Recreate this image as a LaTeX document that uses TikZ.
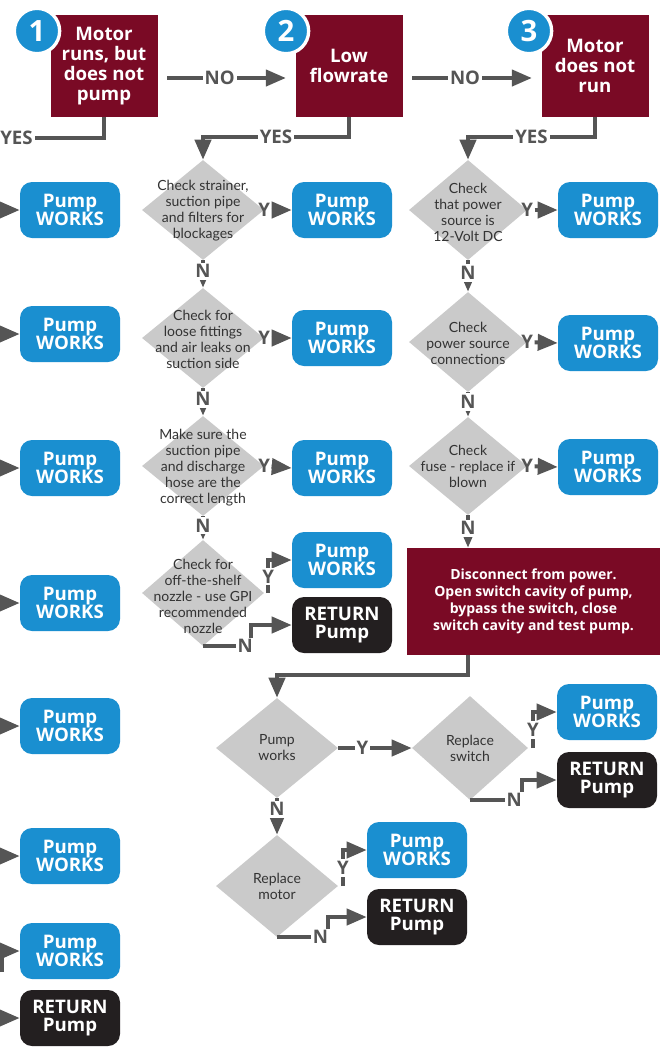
\documentclass[tikz,border=0pt]{standalone}
\usepackage{fontspec}
\setmainfont{Lato}
\newfontfamily\boldfam{Open Sans}
\usetikzlibrary{arrows.meta,shapes.geometric}
\definecolor{maroon}{HTML}{7A0A25}
\definecolor{pblue}{HTML}{1A8FD0}
\definecolor{dgray}{HTML}{CACACA}
\definecolor{agray}{HTML}{555555}
\definecolor{tgray}{HTML}{333333}
\definecolor{rblack}{HTML}{231F20}
\begin{document}
\begin{tikzpicture}[x=0.75pt,y=-0.75pt,
 works/.style={rectangle, rounded corners=9pt, fill=pblue, text=white, font=\boldfam\bfseries\fontsize{14}{14}\selectfont, align=center, minimum width=75pt, minimum height=42pt, inner sep=0pt},
 ret/.style={works, fill=rblack},
 hdr/.style={rectangle, fill=maroon, text=white, font=\boldfam\bfseries\fontsize{14}{14.8}\selectfont, align=center, minimum width=80.25pt, minimum height=76.5pt, inner sep=0pt},
 dia/.style={diamond, fill=dgray, inner sep=0pt, minimum width=91.5pt, minimum height=75pt},
 dtxt/.style={text=tgray, font=\fontsize{10.5}{12}\selectfont, align=center, inner sep=0pt},
 arr/.style={draw=agray, line width=3pt, -{Triangle[length=15pt,width=12pt]}},
 ln/.style={draw=agray, line width=3pt},
 lab/.style={text=agray, font=\boldfam\bfseries\fontsize{14}{14}\selectfont, fill=white, inner sep=1.5pt},
 ylab/.style={lab, fill=none},
 num/.style={circle, fill=pblue, draw=white, line width=2.5pt, minimum size=34pt, inner sep=0pt, text=white, font=\boldfam\bfseries\fontsize{22}{22}\selectfont},
]
\fill[white] (0,0) rectangle (667,1054);
\useasboundingbox (0,0) rectangle (667,1054);

% headers
\node[hdr] (h1) at (104,66) {Motor\\runs, but\\does not\\pump};
\node[hdr] (h2) at (349,66) {Low\\flowrate};
\node[hdr] (h3) at (595,66) {Motor\\does not\\run};
\node[num] (c1) at (37,31) {1};
\node[num] (c2) at (286,31) {2};
\node[num] (c3) at (529,31) {3};

\draw[arr, shorten <=7pt, shorten >=7pt] ([yshift=-9pt]h1.east) -- ([yshift=-9pt]h2.west) node[lab, pos=0.45] (no1) {NO};
\draw[arr, shorten <=7pt, shorten >=7pt] ([yshift=-9pt]h2.east) -- ([yshift=-9pt]h3.west) node[lab, pos=0.45] (no2) {NO};

% left column stubs
\coordinate (yl) at (0,138);
\draw[ln] (h1.south) |- (yl);
\node[lab, anchor=east] (yes1) at (35,138) {YES};

\node[works] (l1) at (70,210) {Pump\\WORKS};
\node[works] (l2) at (70,334) {Pump\\WORKS};
\node[works] (l3) at (70,468) {Pump\\WORKS};
\node[works] (l4) at (70,603) {Pump\\WORKS};
\node[works] (l5) at (70,726) {Pump\\WORKS};
\node[works] (l6) at (70,856) {Pump\\WORKS};
\node[works] (l7) at (70,951) {Pump\\WORKS};
\node[ret] (l8) at (70,1018) {RETURN\\Pump};
\coordinate (s1) at (0,210);
\coordinate (s2) at (0,334);
\coordinate (s3) at (0,468);
\coordinate (s4) at (0,603);
\coordinate (s5) at (0,726);
\coordinate (s6) at (0,856);
\coordinate (s7) at (2,972);
\coordinate (s8) at (0,1018);
\foreach \s/\t in {s1/l1,s2/l2,s3/l3,s4/l4,s5/l5,s6/l6,s8/l8}
  \draw[arr] (\s) -- (\t.west);
\draw[arr] (s7) |- (l7.west);

% column 2
\node[dia] (d1) at (203,210) {};
\node[dtxt] (t1) at (203,211) {Check strainer,\\suction pipe\\and filters for\\blockages};
\node[dia] (d2) at (203,338) {};
\node[dtxt] (t2) at (203,339) {Check for\\loose fittings\\and air leaks on\\suction side};
\node[dia] (d3) at (203,466) {};
\node[dtxt] (t3) at (203,468) {Make sure the\\suction pipe\\and discharge\\hose are the\\correct length};
\node[dia, minimum height=79.5pt] (d4) at (203,593) {};
\node[dtxt] (t4) at (203,596) {Check for\\off-the-shelf\\nozzle - use GPI\\recommended\\nozzle};

\draw[arr] (h2.south) -- ++(0,20) -| (d1.north) node[lab, pos=0.25] (yes2) {YES};
\draw[arr] (d1.south) -- (d2.north) node[lab, pos=0.4] (n1) {N};
\draw[arr] (d2.south) -- (d3.north) node[lab, pos=0.4] (n2) {N};
\draw[arr] (d3.south) -- (d4.north) node[lab, pos=0.4] (n3) {N};

\node[works] (w1) at (342,210) {Pump\\WORKS};
\node[works] (w2) at (342,338) {Pump\\WORKS};
\node[works] (w3) at (342,468) {Pump\\WORKS};
\node[works] (w4) at (342,560) {Pump\\WORKS};
\node[ret] (r1) at (342,625) {RETURN\\Pump};

\draw[arr, shorten <=5.5pt] (d1.east) -- (w1.west);
\node[ylab] (y1) at (d1.east) {Y};
\draw[arr, shorten <=5.5pt] (d2.east) -- (w2.west);
\node[ylab] (y2) at (d2.east) {Y};
\draw[arr, shorten <=5.5pt] (d3.east) -- (w3.west);
\node[ylab] (y3) at (d3.east) {Y};
\draw[arr] ([xshift=3pt]d4.east) |- (w4.west) node[lab, pos=0.25] (y4) {Y};
\draw[arr] (d4.south) -- ++(48,0) node[lab, pos=0.88] (n4) {N} |- (r1.west);

% column 3
\node[dia, minimum width=88.5pt] (d5) at (468,210) {};
\node[dtxt] (t5) at (468,212) {Check\\that power\\source is\\12-Volt DC};
\node[dia, minimum width=88.5pt] (d6) at (468,342) {};
\node[dtxt] (t6) at (468,343) {Check\\power source\\connections};
\node[dia, minimum width=88.5pt, minimum height=73.5pt] (d7) at (468,466) {};
\node[dtxt] (t7) at (468,466) {Check\\fuse - replace if\\blown};

\draw[arr] (h3.south) -- ++(0,20) -| (d5.north) node[lab, pos=0.25] (yes3) {YES};
\draw[arr] (d5.south) -- (d6.north) node[lab, pos=0.4] (n5) {N};
\draw[arr] (d6.south) -- (d7.north) node[lab, pos=0.4] (n6) {N};

\node[works] (w5) at (608,210) {Pump\\WORKS};
\node[works] (w6) at (608,343) {Pump\\WORKS};
\node[works] (w7) at (608,467) {Pump\\WORKS};
\draw[arr, shorten <=5.5pt] (d5.east) -- (w5.west);
\node[ylab] (y5) at (d5.east) {Y};
\draw[arr, shorten <=5.5pt] (d6.east) -- (w6.west);
\node[ylab] (y6) at (d6.east) {Y};
\draw[arr, shorten <=5.5pt] (d7.east) -- (w7.west);
\node[ylab] (y7) at (d7.east) {Y};

\node[hdr, minimum width=189.75pt, minimum height=80.25pt, font=\boldfam\bfseries\fontsize{10.5}{12.75}\selectfont] (m) at (533.5,601.5) {Disconnect from power.\\Open switch cavity of pump,\\bypass the switch, close\\switch cavity and test pump.};
\draw[arr] (d7.south) -- (d7.south |- m.north) node[lab, pos=0.4] (n7) {N};

% bottom part
\node[dia] (d8) at (277,748) {};
\node[dtxt] (t8) at (277,748) {Pump\\works};
\node[dia, minimum width=87pt, minimum height=78pt] (d9) at (470,748) {};
\node[dtxt] (t9) at (470,748) {Replace\\switch};
\node[dia, minimum height=76.5pt] (d10) at (277,886) {};
\node[dtxt] (t10) at (277,886) {Replace\\motor};

\draw[arr] (m.south -| d7) -- ++(0,20) -| (d8.north);
\draw[arr] (d8.east) -- (d9.west) node[lab, pos=0.33] (y8) {Y};
\draw[arr] (d8.south) -- (d10.north) node[lab, pos=0.3] (n8) {N};

\node[works] (w8) at (607,712) {Pump\\WORKS};
\node[ret] (r2) at (607,780) {RETURN\\Pump};
\draw[arr] ([xshift=3.5pt]d9.east) |- (w8.west) node[lab, pos=0.25] (y9) {Y};
\draw[arr] (d9.south) -- ++(52,0) node[lab, pos=0.85] (n9) {N} |- (r2.west);

\node[works] (w9) at (417,850) {Pump\\WORKS};
\node[ret] (r3) at (417,917) {RETURN\\Pump};
\draw[arr] ([xshift=3.5pt]d10.east) |- (w9.west) node[lab, pos=0.25] (y10) {Y};
\draw[arr] (d10.south) -- ++(51,0) node[lab, pos=0.85] (n10) {N} |- (r3.west);
\end{tikzpicture}
\end{document}
